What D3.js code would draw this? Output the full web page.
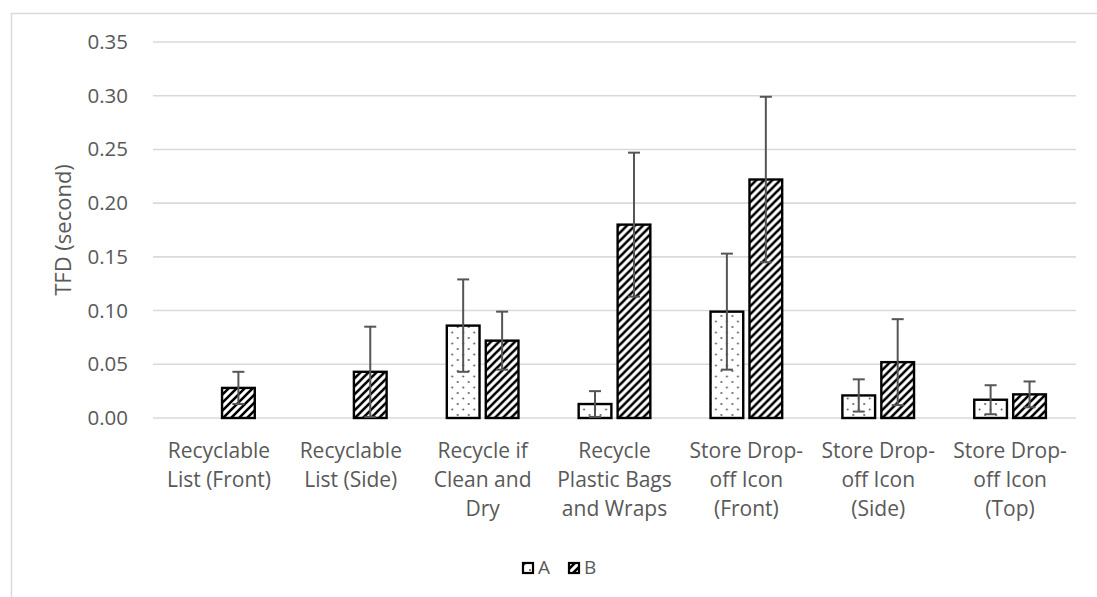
<!DOCTYPE html>
<html>
<head>
<meta charset="utf-8">
<script src="https://cdn.jsdelivr.net/npm/d3@7"></script>
<style>
  html, body { margin: 0; padding: 0; background: #fff; }
  svg { display: block; }
  text { font-family: "Open Sans", "Liberation Sans", sans-serif; fill: #595959; }
</style>
</head>
<body>
<svg id="chart" width="1097" height="597"></svg>
<script>
// Total fixation duration per label element, two package versions (A, B)
const categories = [
  ["Recyclable", "List (Front)"],
  ["Recyclable", "List (Side)"],
  ["Recycle if", "Clean and", "Dry"],
  ["Recycle", "Plastic Bags", "and Wraps"],
  ["Store Drop-", "off Icon", "(Front)"],
  ["Store Drop-", "off Icon", "(Side)"],
  ["Store Drop-", "off Icon", "(Top)"]
];
const series = ["A", "B"];
const valuesA = [null, null, 0.086, 0.013, 0.099, 0.021, 0.017];
const errorsA = [null, null, 0.043, 0.012, 0.054, 0.015, 0.0135];
const valuesB = [0.028, 0.043, 0.072, 0.180, 0.222, 0.052, 0.022];
const errorsB = [0.015, 0.042, 0.027, 0.067, 0.077, 0.040, 0.012];
const yTicks = [0, 0.05, 0.10, 0.15, 0.20, 0.25, 0.30, 0.35];
const yTitle = "TFD (second)";

const svg = d3.select("#chart");
const plot = { left: 153, right: 1076, top: 42, bottom: 418 };

const defs = svg.append("defs");
// dotted fill for A
const dots = defs.append("pattern").attr("id", "dots")
  .attr("patternUnits", "userSpaceOnUse").attr("width", 11).attr("height", 11);
dots.append("rect").attr("width", 11).attr("height", 11).attr("fill", "#fff");
dots.append("circle").attr("cx", 2.5).attr("cy", 2.5).attr("r", 0.9).attr("fill", "#444");
dots.append("circle").attr("cx", 8).attr("cy", 8).attr("r", 0.9).attr("fill", "#444");
// diagonal hatch for B
const hatch = defs.append("pattern").attr("id", "hatch")
  .attr("patternUnits", "userSpaceOnUse").attr("width", 8).attr("height", 8);
hatch.append("rect").attr("width", 8).attr("height", 8).attr("fill", "#fff");
hatch.append("path").attr("d", "M-2,2 L2,-2 M0,8 L8,0 M6,10 L10,6")
  .attr("stroke", "#000").attr("stroke-width", 2.6);

// chart frame
svg.append("path").attr("d", "M11.5,597 V13.5 H1097")
  .attr("fill", "none").attr("stroke", "#d9d9d9").attr("stroke-width", 1.5);

const x = d3.scaleBand().domain(d3.range(categories.length))
  .range([plot.left, plot.right]).padding(0);
const xSub = d3.scaleBand().domain(series)
  .range([x.bandwidth() / 2 - 37, x.bandwidth() / 2 + 37]).paddingInner(0.16).paddingOuter(0.03);
const y = d3.scaleLinear().domain([0, 0.35]).range([plot.bottom, plot.top]);

// gridlines
svg.append("g").selectAll("line").data(yTicks).join("line")
  .attr("x1", plot.left).attr("x2", plot.right)
  .attr("y1", d => y(d)).attr("y2", d => y(d))
  .attr("stroke", "#d9d9d9").attr("stroke-width", 1.6);

// y axis labels
const yAxis = svg.append("g").attr("transform", `translate(${plot.left},0)`)
  .call(d3.axisLeft(y).tickValues(yTicks).tickFormat(d3.format(".2f")).tickSize(0).tickPadding(25));
yAxis.select(".domain").remove();
yAxis.selectAll("text").style("font-size", "20.5px").attr("fill", "#595959")
  .style("font-family", "'Open Sans', sans-serif");

svg.append("text").attr("transform", `translate(71,${(plot.top + plot.bottom) / 2}) rotate(-90)`)
  .attr("text-anchor", "middle").style("font-size", "22px").text(yTitle);

// x axis category labels
const xAxis = svg.append("g").attr("transform", `translate(0,${plot.bottom})`)
  .call(d3.axisBottom(x).tickSize(0).tickFormat(""));
xAxis.select(".domain").remove();
xAxis.selectAll(".tick").each(function (i) {
  const t = d3.select(this).append("text").attr("text-anchor", "middle")
    .style("font-size", "21px").attr("fill", "#595959");
  categories[i].forEach((line, k) => {
    t.append("tspan").attr("x", 0).attr("y", 40 + k * 29).text(line);
  });
});

// bars and error bars
const rows = categories.map((c, i) => ({
  i,
  items: [
    { s: "A", v: valuesA[i], e: errorsA[i], fill: "url(#dots)" },
    { s: "B", v: valuesB[i], e: errorsB[i], fill: "url(#hatch)" }
  ].filter(d => d.v != null)
}));

const groups = svg.append("g").selectAll("g").data(rows).join("g")
  .attr("transform", d => `translate(${x(d.i)},0)`);

groups.selectAll("rect").data(d => d.items).join("rect")
  .attr("x", d => xSub(d.s)).attr("width", xSub.bandwidth())
  .attr("y", d => y(d.v)).attr("height", d => y(0) - y(d.v))
  .attr("fill", d => d.fill).attr("stroke", "#000").attr("stroke-width", 2.4);

const err = groups.selectAll("g.err").data(d => d.items).join("g").attr("class", "err")
  .attr("transform", d => `translate(${xSub(d.s) + xSub.bandwidth() / 2},0)`)
  .attr("stroke", "#555").attr("stroke-width", 2);
err.append("line").attr("y1", d => y(d.v + d.e)).attr("y2", d => y(Math.max(0, d.v - d.e)));
err.append("line").attr("x1", -6).attr("x2", 6).attr("y1", d => y(d.v + d.e)).attr("y2", d => y(d.v + d.e));
err.append("line").attr("x1", -6).attr("x2", 6)
  .attr("y1", d => y(Math.max(0, d.v - d.e))).attr("y2", d => y(Math.max(0, d.v - d.e)));

// legend
const legend = svg.append("g").attr("transform", "translate(522,562)");
const legendItems = [{ s: "A", fill: "url(#dots)", dx: 0 }, { s: "B", fill: "url(#hatch)", dx: 46 }];
const li = legend.selectAll("g").data(legendItems).join("g")
  .attr("transform", d => `translate(${d.dx},0)`);
li.append("rect").attr("x", 1).attr("y", 1).attr("width", 10).attr("height", 10)
  .attr("fill", d => d.fill).attr("stroke", "#000").attr("stroke-width", 2.2);
li.append("text").attr("x", 16).attr("y", 12).style("font-size", "19px").text(d => d.s);
</script>
</body>
</html>
